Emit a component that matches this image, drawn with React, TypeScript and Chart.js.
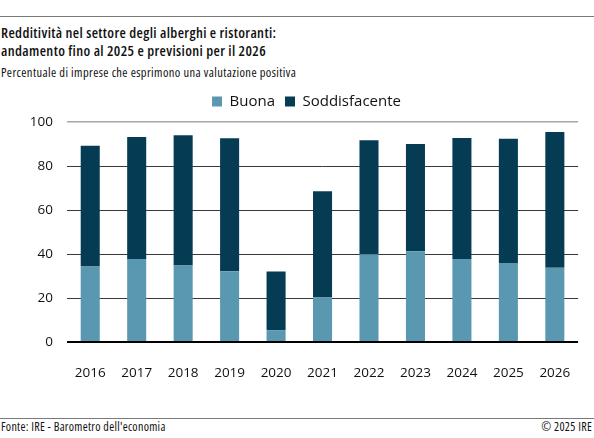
import React, { useEffect, useRef } from "react";
import { Chart, registerables } from "chart.js";

Chart.register(...registerables);

const categories = ["2016", "2017", "2018", "2019", "2020", "2021", "2022", "2023", "2024", "2025", "2026"];
const buona = [34.3, 37.7, 34.8, 32.2, 5.4, 20.2, 39.9, 41.3, 37.7, 35.9, 33.7];
const soddisfacente = [54.9, 55.5, 59.2, 60.4, 26.6, 48.3, 51.8, 48.7, 55.0, 56.5, 61.8];
const yTicks = [0, 20, 40, 60, 80, 100];

const titleLines = [
  "Redditività nel settore degli alberghi e ristoranti:",
  "andamento fino al 2025 e previsioni per il 2026",
];
const subtitle = "Percentuale di imprese che esprimono una valutazione positiva";
const source = "Fonte: IRE - Barometro dell'economia";
const copyright = "© 2025 IRE";

const COLOR_BUONA = "#5a97b0";
const COLOR_SODD = "#063c53";
const SANS = "'Open Sans', 'Noto Sans', sans-serif";

const CANVAS_TOP = 84;
const CANVAS_W = 594;
const CANVAS_H = 298;

export default function App() {
  const canvasRef = useRef<HTMLCanvasElement | null>(null);

  useEffect(() => {
    document.body.style.margin = "0";
    const canvas = canvasRef.current;
    if (!canvas) return;
    const chart = new Chart(canvas, {
      type: "bar",
      data: {
        labels: categories,
        datasets: [
          { label: "Buona", data: buona, backgroundColor: COLOR_BUONA, xAxisID: "x", yAxisID: "y" },
          { label: "Soddisfacente", data: soddisfacente, backgroundColor: COLOR_SODD, xAxisID: "x", yAxisID: "y" },
        ],
      },
      options: {
        animation: false,
        responsive: false,
        devicePixelRatio: 1,
        layout: { padding: { left: 22, right: 3, top: 0, bottom: 0 } },
        datasets: { bar: { categoryPercentage: 1, barPercentage: 0.41 } },
        plugins: {
          title: { display: false },
          tooltip: { enabled: false },
          legend: {
            position: "top",
            labels: {
              boxWidth: 10,
              boxHeight: 10,
              padding: 10,
              color: "#111",
              font: { family: SANS, size: 15 },
            },
          },
        },
        scales: {
          x: {
            stacked: true,
            grid: { display: false, drawTicks: false },
            border: { display: false },
            ticks: { color: "#111", padding: 23, font: { family: SANS, size: 13.5 } },
            afterFit: (axis: any) => {
              axis.height = 40;
            },
          },
          spacer: {
            type: "category",
            position: "top",
            display: true,
            grid: { display: false, drawTicks: false },
            border: { display: false },
            ticks: { display: false },
            afterFit: (axis: any) => {
              axis.height = 3;
            },
          },
          y: {
            stacked: true,
            min: 0,
            max: 100,
            afterBuildTicks: (axis: any) => {
              axis.ticks = yTicks.map((v) => ({ value: v }));
            },
            afterFit: (axis: any) => {
              axis.width = 45;
            },
            grid: {
              drawTicks: false,
              color: (ctx: any) =>
                ctx.tick && ctx.tick.value === 0 ? "#000" : ctx.tick && ctx.tick.value === 100 ? "#a6a6a6" : "#3a3a3a",
              lineWidth: (ctx: any) => (ctx.tick && ctx.tick.value === 0 ? 2 : ctx.tick && ctx.tick.value === 100 ? 1.5 : 1),
            },
            border: { display: false },
            ticks: { color: "#111", padding: 14, font: { family: SANS, size: 13.5 } },
          },
        },
      },
    } as any);
    return () => chart.destroy();
  }, []);

  const textBase: React.CSSProperties = {
    position: "absolute",
    fontFamily: SANS,
    color: "#111",
    whiteSpace: "nowrap",
    fontStretch: "75%",
  };

  return (
    <div style={{ position: "fixed", left: 0, top: 0, width: 594, height: 438, background: "#fff", overflow: "hidden" }}>
      <div style={{ position: "absolute", left: 0, top: 15.5, width: 594, height: 1.5, background: "#7a7a7a" }} />
      <div
        style={{
          ...textBase,
          left: 1,
          top: 24,
          fontWeight: 600,
          fontSize: 14.5,
          letterSpacing: "0.37px",
          lineHeight: "18px",
        }}
      >
        {titleLines.map((t, i) => (
          <div key={i}>{t}</div>
        ))}
      </div>
      <div
        style={{
          ...textBase,
          left: 1,
          top: 66,
          fontSize: 12.5,
          letterSpacing: "0.4px",
          lineHeight: "14px",
        }}
      >
        {subtitle}
      </div>
      <canvas
        ref={canvasRef}
        width={CANVAS_W}
        height={CANVAS_H}
        style={{ position: "absolute", left: 0, top: CANVAS_TOP, width: CANVAS_W, height: CANVAS_H }}
      />
      <div style={{ position: "absolute", left: 0, top: 417.5, width: 594, height: 1.5, background: "#7a7a7a" }} />
      <div
        style={{
          ...textBase,
          left: 1,
          right: 2,
          top: 420,
          display: "flex",
          justifyContent: "space-between",
          fontSize: 12,
          letterSpacing: "0.3px",
          lineHeight: "14px",
        }}
      >
        <span>{source}</span>
        <span>{copyright}</span>
      </div>
    </div>
  );
}
